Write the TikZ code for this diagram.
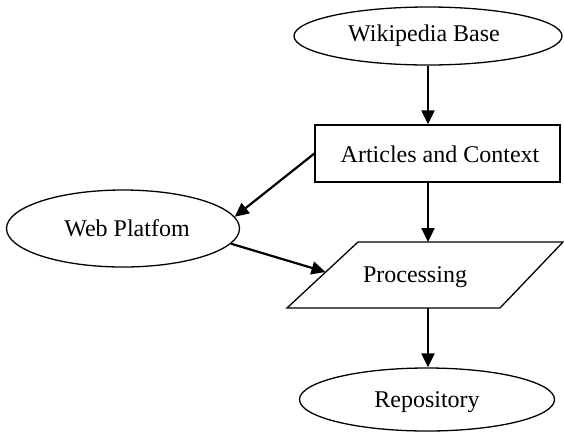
\documentclass[tikz,border=0pt]{standalone}
\usepackage{fontspec}
\setmainfont{Liberation Serif}
\usetikzlibrary{shapes.geometric,arrows.meta}
\begin{document}
\begin{tikzpicture}[x=1pt,y=-1pt,
  every node/.style={font=\fontsize{24}{28}\selectfont},
  oval/.style={draw,ellipse,line width=1.3pt,inner sep=0pt},
  boxed/.style={draw,rectangle,line width=1.3pt,inner sep=0pt},
  conn/.style={line width=2.2pt,-{Triangle[length=14pt,width=13pt]}},
  label/.style={inner sep=0pt}]
\useasboundingbox (0,0) rectangle (564,432);
\node[oval,minimum width=268pt,minimum height=58pt] (wiki) at (428,36) {};
\node[label] (wikit) at (424,36) {Wikipedia Base};
\node[boxed,minimum width=245pt,minimum height=57pt] (box) at (437.5,153.5) {};
\node[label] (boxt) at (440,154) {Articles and Context};
\node[oval,minimum width=233pt,minimum height=77pt] (web) at (123,228.5) {};
\node[label] (webt) at (127,228) {Web Platfom};
\coordinate (p1) at (358,242);
\coordinate (p2) at (563,242);
\coordinate (p3) at (500,308);
\coordinate (p4) at (287,308);
\draw[line width=1.3pt,line join=miter] (p1) -- (p2) -- (p3) -- (p4) -- cycle;
\node[label] (proc) at (415,277) {Processing};
\coordinate (ptop) at (428,242);
\coordinate (pbot) at (428,308);
\coordinate (pleft) at (325.5,272);
\node[oval,minimum width=255pt,minimum height=63pt] (repo) at (427,399.5) {};
\node[label] (repot) at (427,402) {Repository};
\draw[conn] (wiki.south) -- (wiki.south |- box.north);
\draw[conn] (wiki.south |- box.south) -- (ptop);
\draw[conn] (box.west) -- (web.6);
\draw[conn] (web.-8) -- (pleft);
\draw[conn] (pbot) -- (pbot |- repo.north);
\end{tikzpicture}
\end{document}
